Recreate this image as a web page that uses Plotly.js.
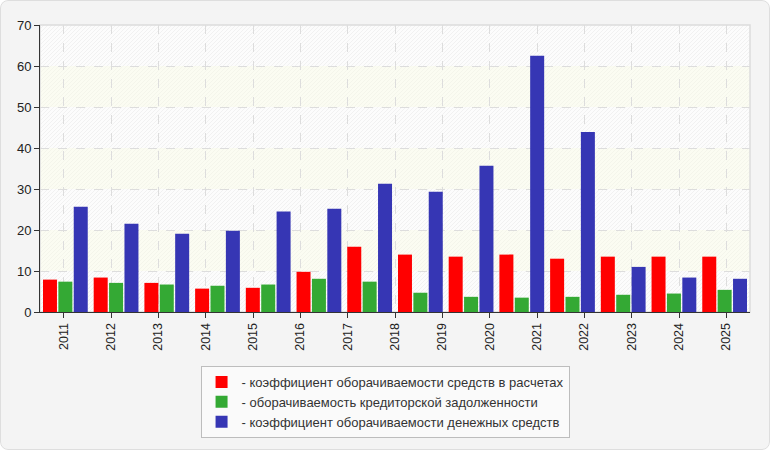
<!DOCTYPE html>
<html>
<head>
<meta charset="utf-8">
<script src="https://cdn.plot.ly/plotly-3.0.1.min.js"></script>
<style>
  html, body { margin: 0; padding: 0; background: #ffffff; }
  #wrap { position: relative; width: 770px; height: 450px; border-radius: 8px; overflow: hidden; }
  #chart { width: 770px; height: 450px; }
  #frame { position: absolute; left: 0; top: 0; width: 770px; height: 450px; box-sizing: border-box;
           border: 1px solid #dedede; border-radius: 8px; pointer-events: none; }
</style>
</head>
<body>
<div id="wrap"><div id="chart"></div><div id="frame"></div></div>
<script>
// Tick labels shown on the category axis
const years = ['2011','2012','2013','2014','2015','2016','2017','2018','2019','2020','2021','2022','2023','2024','2025'];
// The reference draws 14 bar groups across the plot
const barGroups = ['g1','g2','g3','g4','g5','g6','g7','g8','g9','g10','g11','g12','g13','g14'];

const receivablesTurnover = [7.9, 8.4, 7.1, 5.7, 5.9, 9.8, 15.9, 14.0, 13.5, 14.0, 13.0, 13.5, 13.5, 13.5];
const payablesTurnover    = [7.4, 7.1, 6.7, 6.4, 6.7, 8.1, 7.4, 4.7, 3.7, 3.5, 3.7, 4.2, 4.5, 5.4];
const cashTurnover        = [25.7, 21.5, 19.1, 19.8, 24.5, 25.2, 31.3, 29.3, 35.7, 62.5, 43.9, 11.0, 8.4, 8.1];

const seriesNames = [
  '- коэффициент оборачиваемости средств в расчетах',
  '- оборачиваемость кредиторской задолженности',
  '- коэффициент оборачиваемости денежных средств'
];
const seriesColors = ['#ff0000', '#34a934', '#3636b4'];

const yTicks = [0, 10, 20, 30, 40, 50, 60, 70];

const font = 'Liberation Sans, Arial, sans-serif';

const traces = [receivablesTurnover, payablesTurnover, cashTurnover].map((vals, i) => ({
  type: 'bar',
  x: barGroups,
  y: vals,
  name: seriesNames[i],
  marker: { color: seriesColors[i], line: { width: 0 } },
  xaxis: 'x',
  yaxis: 'y',
  hoverinfo: 'skip'
}));

// invisible trace that carries the year categories on the label axis
traces.push({
  type: 'scatter',
  mode: 'markers',
  x: years,
  y: years.map(() => null),
  xaxis: 'x2',
  yaxis: 'y',
  showlegend: false,
  hoverinfo: 'skip',
  marker: { opacity: 0 }
});

// hatch texture for plot background
const hatchSvg = "<svg xmlns='http://www.w3.org/2000/svg' width='710' height='287' viewBox='0 0 710 287' preserveAspectRatio='none'>" +
  "<defs><pattern id='h' width='4' height='4' patternUnits='userSpaceOnUse'>" +
  "<path d='M-1,1 l2,-2 M0,4 l4,-4 M3,5 l2,-2' stroke='rgba(0,0,0,0.045)' stroke-width='1'/></pattern></defs>" +
  "<rect width='710' height='287' fill='url(#h)'/></svg>";
const hatchUri = 'data:image/svg+xml;charset=utf-8,' + encodeURIComponent(hatchSvg);

// alternating cream bands between y ticks
const shapes = [];
for (let i = 1; i < yTicks.length - 1; i += 2) {
  shapes.push({
    type: 'rect', xref: 'paper', yref: 'y', x0: 0, x1: 1, y0: yTicks[i], y1: yTicks[i + 1],
    fillcolor: 'rgba(250,252,228,0.4)', line: { width: 0 }, layer: 'below'
  });
}
shapes.push({
  type: 'rect', xref: 'paper', yref: 'paper', x0: 0, x1: 1, y0: 0, y1: 1,
  fillcolor: 'rgba(0,0,0,0)', line: { color: '#dcdcdc', width: 1.5 }, layer: 'below'
});

const layout = {
  width: 770,
  height: 450,
  margin: { l: 40, r: 20, t: 25, b: 138, pad: 0, autoexpand: false },
  paper_bgcolor: '#f4f4f4',
  plot_bgcolor: '#fcfcfc',
  font: { family: font, size: 12, color: '#222222' },
  barmode: 'group',
  bargap: 0.09,
  bargroupgap: 0.09,
  showlegend: true,
  legend: {
    x: 0.486, xanchor: 'center',
    y: -0.188, yanchor: 'top',
    bgcolor: '#fafafa',
    bordercolor: '#bdbdbd',
    borderwidth: 1,
    font: { family: font, size: 13, color: '#333333' },
    tracegroupgap: 0,
    itemwidth: 30
  },
  xaxis: {
    type: 'category',
    showticklabels: false,
    ticks: '',
    showgrid: false,
    zeroline: false,
    showline: true,
    linecolor: '#333333',
    linewidth: 1,
    fixedrange: true
  },
  xaxis2: {
    type: 'category',
    overlaying: 'x',
    anchor: 'y',
    side: 'bottom',
    categoryorder: 'array',
    categoryarray: years,
    tickmode: 'array',
    tickvals: years,
    ticktext: years,
    range: [-0.5, years.length - 0.5],
    showline: false,
    showgrid: true,
    gridcolor: '#dddddd',
    griddash: 'dash',
    gridwidth: 1,
    ticks: 'outside',
    ticklen: 5,
    tickcolor: '#333333',
    tickangle: -90,
    tickfont: { family: font, size: 12.5, color: '#222222' },
    zeroline: false,
    fixedrange: true
  },
  yaxis: {
    range: [0, 70],
    tickmode: 'array',
    tickvals: yTicks,
    ticktext: yTicks.map(String),
    showline: true,
    linecolor: '#333333',
    linewidth: 1,
    ticks: 'outside',
    ticklen: 5,
    tickcolor: '#333333',
    showgrid: true,
    gridcolor: '#dddddd',
    griddash: 'dash',
    gridwidth: 1,
    zeroline: false,
    tickfont: { family: font, size: 13, color: '#222222' },
    fixedrange: true
  },
  images: [{
    source: hatchUri,
    xref: 'paper', yref: 'paper',
    x: 0, y: 1, sizex: 1, sizey: 1,
    xanchor: 'left', yanchor: 'top',
    sizing: 'stretch',
    layer: 'below'
  }],
  shapes: shapes
};

Plotly.newPlot('chart', traces, layout, { staticPlot: true, displayModeBar: false });
</script>
</body>
</html>
